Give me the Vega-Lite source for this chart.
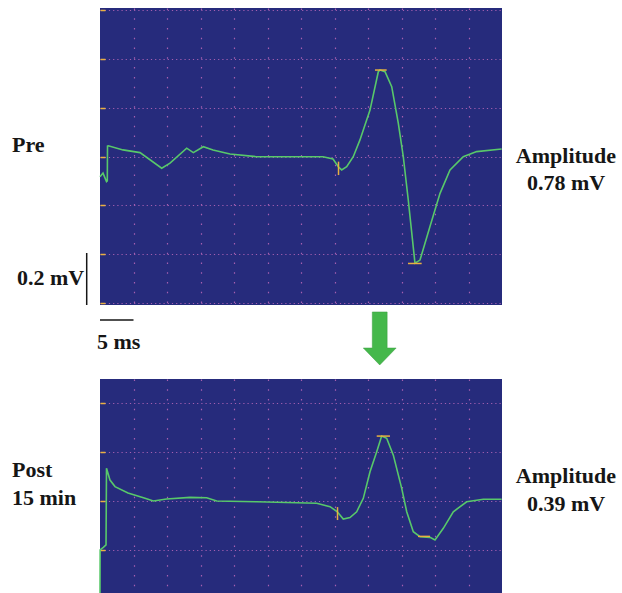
{
  "$schema": "https://vega.github.io/schema/vega-lite/v6.json",
  "background": "white",
  "padding": {"left": 12, "top": 8, "right": 0, "bottom": 0},
  "autosize": {"type": "pad"},
  "bounds": "flush",
  "spacing": 74,
  "config": {
    "view": {"fill": "#262b7c", "stroke": null},
    "text": {"font": "Liberation Serif", "fontWeight": "bold", "fontSize": 22, "color": "#161616"}
  },
  "datasets": {
    "pre": [
      {"t": 0, "v": -0.083}, {"t": 0.45, "v": -0.068}, {"t": 0.97, "v": -0.103}, {"t": 1.09, "v": -0.1},
      {"t": 1.12, "v": 0.043}, {"t": 1.24, "v": 0.044}, {"t": 3.43, "v": 0.027}, {"t": 5.97, "v": 0.016},
      {"t": 9.21, "v": -0.048}, {"t": 10.45, "v": -0.027}, {"t": 12.94, "v": 0.034}, {"t": 13.93, "v": 0.016},
      {"t": 15.42, "v": 0.04}, {"t": 16.87, "v": 0.027}, {"t": 19.4, "v": 0.01}, {"t": 23.39, "v": -0.001},
      {"t": 28.36, "v": -0.001}, {"t": 33.28, "v": -0.001}, {"t": 34.78, "v": -0.01}, {"t": 35.57, "v": -0.042},
      {"t": 36.07, "v": -0.055}, {"t": 36.82, "v": -0.042}, {"t": 37.8, "v": -0.001}, {"t": 38.8, "v": 0.068},
      {"t": 40.3, "v": 0.19}, {"t": 41.54, "v": 0.347}, {"t": 41.79, "v": 0.354}, {"t": 42.54, "v": 0.347},
      {"t": 43.54, "v": 0.286}, {"t": 44.52, "v": 0.137}, {"t": 45.27, "v": -0.001}, {"t": 46.01, "v": -0.178},
      {"t": 47.01, "v": -0.437}, {"t": 47.76, "v": -0.424}, {"t": 49.25, "v": -0.287}, {"t": 50.75, "v": -0.151},
      {"t": 52.24, "v": -0.055}, {"t": 54.22, "v": -0.001}, {"t": 56.22, "v": 0.02}, {"t": 59.95, "v": 0.031}
    ],
    "post": [
      {"t": 0, "v": -0.377}, {"t": 0.02, "v": -0.2}, {"t": 0.5, "v": -0.19}, {"t": 0.9, "v": -0.18},
      {"t": 0.97, "v": 0.134}, {"t": 1.49, "v": 0.086}, {"t": 2.24, "v": 0.059}, {"t": 4.18, "v": 0.033},
      {"t": 6.72, "v": 0.011}, {"t": 7.96, "v": 0}, {"t": 9.95, "v": 0.008}, {"t": 13.43, "v": 0.015},
      {"t": 15.92, "v": 0.0135}, {"t": 17.42, "v": 0}, {"t": 23.39, "v": -0.003}, {"t": 32.34, "v": -0.009},
      {"t": 34.33, "v": -0.023}, {"t": 35.42, "v": -0.044}, {"t": 36.31, "v": -0.074}, {"t": 37.31, "v": -0.068},
      {"t": 38.31, "v": -0.044}, {"t": 39.3, "v": 0.011}, {"t": 40.3, "v": 0.12}, {"t": 41.3, "v": 0.202},
      {"t": 42.04, "v": 0.266}, {"t": 42.79, "v": 0.257}, {"t": 43.78, "v": 0.188}, {"t": 45.03, "v": 0.052},
      {"t": 45.78, "v": -0.044}, {"t": 46.76, "v": -0.126}, {"t": 47.76, "v": -0.146}, {"t": 49.25, "v": -0.149},
      {"t": 50.0, "v": -0.16}, {"t": 51.24, "v": -0.112}, {"t": 52.73, "v": -0.044}, {"t": 54.73, "v": -0.003},
      {"t": 57.21, "v": 0.007}, {"t": 59.95, "v": 0.007}
    ],
    "cursorsPre": [
      {"t1": 41.04, "t2": 42.79, "v1": 0.354, "v2": 0.354},
      {"t1": 45.97, "t2": 48.01, "v1": -0.438, "v2": -0.438},
      {"t1": 35.6, "t2": 35.6, "v1": -0.021, "v2": -0.076}
    ],
    "cursorsPost": [
      {"t1": 41.3, "t2": 43.28, "v1": 0.266, "v2": 0.266},
      {"t1": 47.46, "t2": 49.25, "v1": -0.145, "v2": -0.145},
      {"t1": 35.45, "t2": 35.45, "v1": -0.025, "v2": -0.078}
    ]
  },
  "vconcat": [
    {
      "width": 402,
      "height": 297,
      "layer": [
        {
          "data": {"name": "pre"},
          "mark": {"type": "line", "color": "#58c86a", "strokeWidth": 1.6},
          "encoding": {
            "x": {"field": "t", "type": "quantitative",
              "scale": {"domain": [0, 60], "nice": false, "zero": false},
              "axis": {"values": [5, 10, 15, 20, 25, 30, 35, 40, 45, 50, 55], "grid": true, "gridColor": "#a45fb0", "gridDash": [1.5, 8.27], "gridWidth": 1.2, "ticks": false, "labels": false, "domain": false, "title": null}},
            "y": {"field": "v", "type": "quantitative",
              "scale": {"domain": [-0.608, 0.608], "nice": false, "zero": false},
              "axis": {"values": [-0.6, -0.4, -0.2, 0, 0.2, 0.4, 0.6], "grid": true, "gridColor": "#a45fb0", "gridDash": [1.2, 3], "gridWidth": 1.2, "ticks": true, "tickColor": "#e8b040", "tickSize": -5, "tickWidth": 1.5, "labels": false, "domain": false, "title": null}}
          }
        },
        {
          "data": {"name": "cursorsPre"},
          "mark": {"type": "rule", "color": "#e8b040", "strokeWidth": 1.5},
          "encoding": {
            "x": {"field": "t1", "type": "quantitative"}, "x2": {"field": "t2"},
            "y": {"field": "v1", "type": "quantitative"}, "y2": {"field": "v2"}
          }
        },
        {
          "data": {"values": [{}]},
          "mark": {"type": "text", "align": "left", "baseline": "alphabetic", "clip": false},
          "encoding": {"x": {"datum": -13.13}, "y": {"datum": 0.017}, "text": {"value": "Pre"}}
        },
        {
          "data": {"values": [{}]},
          "mark": {"type": "text", "align": "left", "baseline": "alphabetic", "clip": false},
          "encoding": {"x": {"datum": -12.39}, "y": {"datum": -0.526}, "text": {"value": "0.2 mV"}}
        },
        {
          "data": {"values": [{}]},
          "mark": {"type": "text", "align": "left", "baseline": "alphabetic", "clip": false},
          "encoding": {"x": {"datum": -0.45}, "y": {"datum": -0.788}, "text": {"value": "5 ms"}}
        },
        {
          "data": {"values": [{}]},
          "mark": {"type": "text", "align": "center", "baseline": "alphabetic", "lineHeight": 27.5, "clip": false},
          "encoding": {"x": {"datum": 69.55}, "y": {"datum": -0.0266}, "text": {"value": ["Amplitude", "0.78 mV"]}}
        },
        {
          "data": {"values": [{}]},
          "mark": {"type": "rule", "color": "#161616", "strokeWidth": 1.5, "clip": false},
          "encoding": {"x": {"datum": -1.985}, "y": {"datum": -0.395}, "y2": {"datum": -0.608}}
        },
        {
          "data": {"values": [{}]},
          "mark": {"type": "rule", "color": "#161616", "strokeWidth": 1.5, "clip": false},
          "encoding": {"x": {"datum": 0}, "x2": {"datum": 5}, "y": {"datum": -0.6695}}
        },
        {
          "data": {"values": [{}]},
          "mark": {"type": "point", "filled": true, "clip": false, "size": 2809, "opacity": 1,
            "fill": "#45b84b", "stroke": "#3a9c40", "strokeWidth": 0.5,
            "shape": "M-0.28,-1 L0.28,-1 L0.28,0.36 L0.62,0.36 L0,1 L-0.62,0.36 L-0.28,0.36 Z"},
          "encoding": {"x": {"datum": 41.75}, "y": {"datum": -0.745}}
        }
      ]
    },
    {
      "width": 402,
      "height": 214,
      "layer": [
        {
          "data": {"name": "post"},
          "mark": {"type": "line", "color": "#58c86a", "strokeWidth": 1.6},
          "encoding": {
            "x": {"field": "t", "type": "quantitative",
              "scale": {"domain": [0, 60], "nice": false, "zero": false},
              "axis": {"values": [5, 10, 15, 20, 25, 30, 35, 40, 45, 50, 55], "grid": true, "gridColor": "#a45fb0", "gridDash": [1.5, 8.27], "gridWidth": 1.2, "ticks": false, "labels": false, "domain": false, "title": null}},
            "y": {"field": "v", "type": "quantitative",
              "scale": {"domain": [-0.377, 0.5], "nice": false, "zero": false},
              "axis": {"values": [-0.2, 0, 0.2, 0.4], "grid": true, "gridColor": "#a45fb0", "gridDash": [1.2, 3], "gridWidth": 1.2, "ticks": true, "tickColor": "#e8b040", "tickSize": -5, "tickWidth": 1.5, "labels": false, "domain": false, "title": null}}
          }
        },
        {
          "data": {"name": "cursorsPost"},
          "mark": {"type": "rule", "color": "#e8b040", "strokeWidth": 1.5},
          "encoding": {
            "x": {"field": "t1", "type": "quantitative"}, "x2": {"field": "t2"},
            "y": {"field": "v1", "type": "quantitative"}, "y2": {"field": "v2"}
          }
        },
        {
          "data": {"values": [{}]},
          "mark": {"type": "text", "align": "left", "baseline": "alphabetic", "lineHeight": 28, "clip": false},
          "encoding": {"x": {"datum": -13.13}, "y": {"datum": 0.097}, "text": {"value": ["Post", "15 min"]}}
        },
        {
          "data": {"values": [{}]},
          "mark": {"type": "text", "align": "center", "baseline": "alphabetic", "lineHeight": 27.5, "clip": false},
          "encoding": {"x": {"datum": 69.55}, "y": {"datum": 0.0725}, "text": {"value": ["Amplitude", "0.39 mV"]}}
        }
      ]
    }
  ]
}
